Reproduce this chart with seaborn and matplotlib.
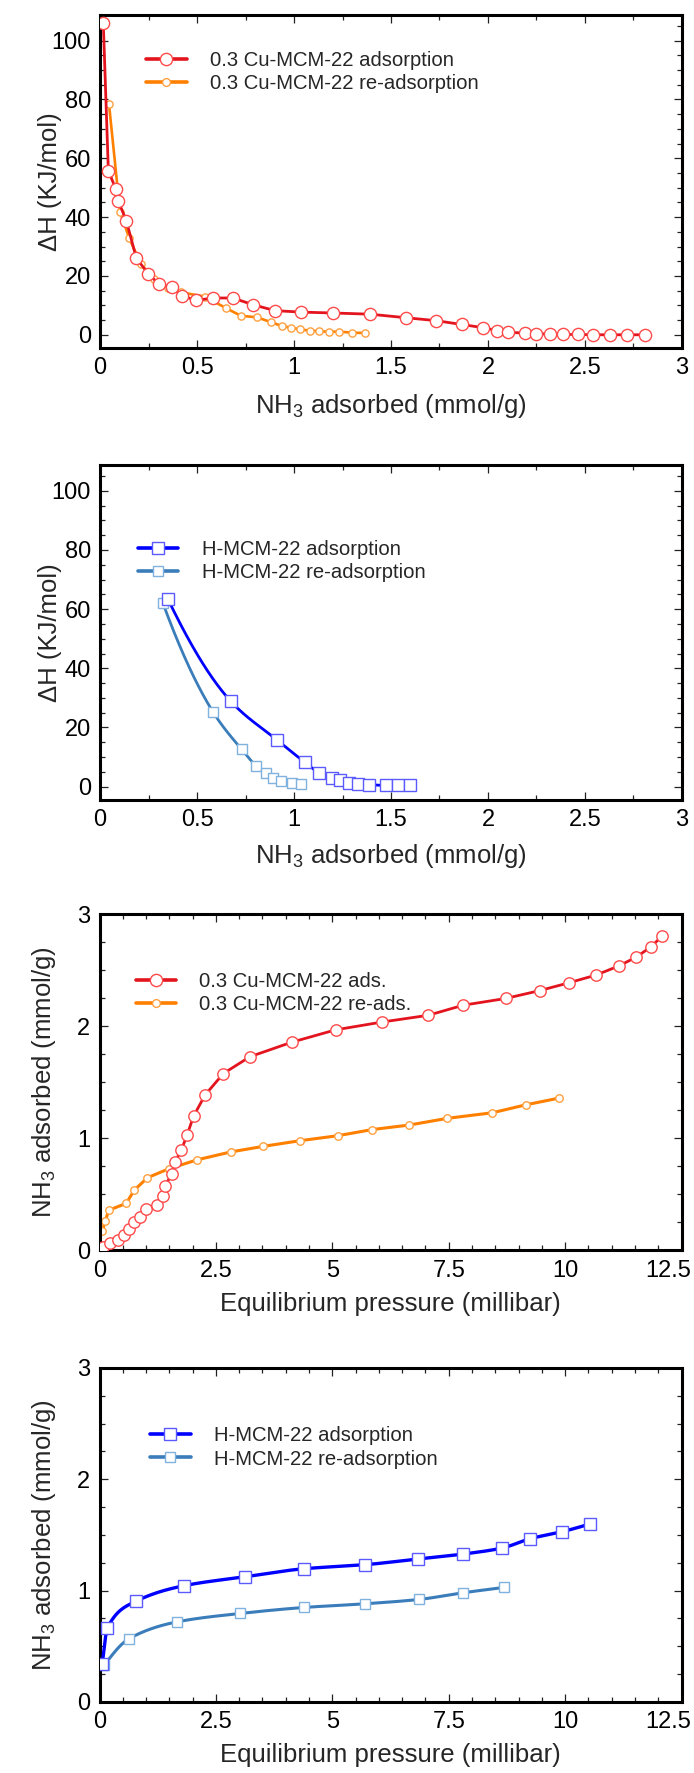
import numpy as np
import pandas as pd
import matplotlib
matplotlib.use("Agg")
import matplotlib.pyplot as plt
import seaborn as sns
from matplotlib.lines import Line2D
from matplotlib.ticker import MultipleLocator, FixedLocator, FixedFormatter
from matplotlib.transforms import ScaledTranslation

# ---------------- data ----------------
# Panel 1: heat of adsorption, 0.3 Cu-MCM-22
cu_ads_x = [0.017, 0.043, 0.081, 0.094, 0.136, 0.187, 0.249, 0.304, 0.37, 0.421, 0.495,
            0.584, 0.684, 0.79, 0.902, 1.038, 1.203, 1.392, 1.576, 1.732, 1.864, 1.976,
            2.048, 2.105, 2.19, 2.25, 2.32, 2.388, 2.465, 2.543, 2.63, 2.718, 2.81]
cu_ads_h = [105.9, 55.8, 49.6, 45.5, 38.7, 26.1, 20.7, 17.2, 16.2, 13.3, 11.7,
            12.5, 12.5, 10.2, 8.2, 7.7, 7.4, 7.0, 5.8, 4.8, 3.5, 2.4,
            1.4, 0.8, 0.6, 0.4, 0.2, 0.1, 0.1, 0.0, 0.0, 0.0, 0.0]
cu_re_x = [0.046, 0.103, 0.15, 0.21, 0.28, 0.35, 0.418, 0.541, 0.648, 0.725, 0.811,
           0.88, 0.937, 0.985, 1.031, 1.082, 1.13, 1.182, 1.23, 1.30, 1.368]
cu_re_h = [78.6, 41.9, 33.0, 24.0, 19.0, 16.0, 14.4, 13.0, 9.1, 6.5, 5.9,
           4.3, 3.0, 2.4, 1.8, 1.4, 1.2, 1.0, 1.1, 0.7, 0.6]

# Panel 2: heat of adsorption, H-MCM-22
h_ads_x = [0.35, 0.675, 0.914, 1.055, 1.13, 1.198, 1.237, 1.284, 1.332, 1.388, 1.472, 1.538, 1.60]
h_ads_h = [63.4, 28.8, 15.7, 8.3, 4.7, 3.0, 2.1, 1.3, 1.0, 0.7, 0.4, 0.4, 0.4]
h_re_x = [0.325, 0.584, 0.730, 0.804, 0.854, 0.89, 0.931, 0.988, 1.035]
h_re_h = [61.9, 25.1, 12.6, 7.1, 4.5, 3.0, 2.0, 1.3, 1.0]

# Panel 3: isotherms, 0.3 Cu-MCM-22
cu_iso_p = [0.05, 0.08, 0.225, 0.39, 0.53, 0.64, 0.75, 0.87, 0.99, 1.23, 1.36, 1.41, 1.55,
            1.62, 1.76, 1.88, 2.02, 2.27, 2.66, 3.23, 4.13, 5.07, 6.07, 7.06, 7.81, 8.72,
            9.45, 10.08, 10.67, 11.15, 11.53, 11.84, 12.09]
cu_iso_n = [0.01, 0.03, 0.07, 0.09, 0.14, 0.19, 0.25, 0.30, 0.37, 0.41, 0.49, 0.58, 0.68,
            0.79, 0.90, 1.03, 1.20, 1.39, 1.58, 1.73, 1.86, 1.97, 2.04, 2.10, 2.19, 2.25,
            2.32, 2.39, 2.46, 2.54, 2.62, 2.71, 2.81]
cu_reiso_p = [0.06, 0.12, 0.2, 0.57, 0.75, 1.03, 1.49, 2.10, 2.82, 3.52, 4.30, 5.12,
              5.86, 6.65, 7.47, 8.44, 9.15, 9.86]
cu_reiso_n = [0.17, 0.26, 0.36, 0.42, 0.54, 0.65, 0.73, 0.81, 0.88, 0.93, 0.98, 1.025,
              1.08, 1.12, 1.18, 1.23, 1.30, 1.36]

# Panel 4: isotherms, H-MCM-22
h_iso_p = [0.06, 0.17, 0.79, 1.81, 3.13, 4.39, 5.70, 6.83, 7.81, 8.65, 9.25, 9.94, 10.53]
h_iso_n = [0.345, 0.666, 0.906, 1.044, 1.125, 1.197, 1.233, 1.284, 1.329, 1.383, 1.467, 1.53, 1.599]
h_reiso_p = [0.10, 0.64, 1.67, 3.02, 4.39, 5.70, 6.86, 7.81, 8.69]
h_reiso_n = [0.33, 0.57, 0.72, 0.795, 0.849, 0.882, 0.921, 0.981, 1.029]

# tick labels
heat_xticks = [0, 0.5, 1, 1.5, 2, 2.5, 3]
heat_xlabels = ["0", "0.5", "1", "1.5", "2", "2.5", "3"]
heat_yticks = [0, 20, 40, 60, 80, 100]
heat_ylabels = ["0", "20", "40", "60", "80", "100"]
iso_xticks = [0, 2.5, 5, 7.5, 10, 12.5]
iso_xlabels = ["0", "2.5", "5", "7.5", "10", "12.5"]
iso_yticks = [0, 1, 2, 3]
iso_ylabels = ["0", "1", "2", "3"]

labels1 = ["0.3 Cu-MCM-22 adsorption", "0.3 Cu-MCM-22 re-adsorption"]
labels2 = ["H-MCM-22 adsorption", "H-MCM-22 re-adsorption"]
labels3 = ["0.3 Cu-MCM-22 ads.", "0.3 Cu-MCM-22 re-ads."]
labels4 = ["H-MCM-22 adsorption", "H-MCM-22 re-adsorption"]

# ---------------- style ----------------
sns.set_style("ticks")
plt.rcParams["font.family"] = ["Liberation Sans", "DejaVu Sans"]
plt.rcParams["mathtext.fontset"] = "custom"
plt.rcParams["mathtext.rm"] = "Liberation Sans"
plt.rcParams["mathtext.it"] = "Liberation Sans:italic"
plt.rcParams["mathtext.bf"] = "Liberation Sans:bold"

RED_L, RED_E = "#E3141E", "#FF4A4A"
ORA_L, ORA_E = "#FF8000", "#FFA040"
BLU_L, BLU_E = "#0000FF", "#5A5AFF"
STL_L, STL_E = "#3A7DBA", "#80B2E0"

TICK_FS = 17
LAB_FS = 18.5
LEG_FS = 14.6


def pchip(x, y, n=300):
    x = np.asarray(x, float)
    y = np.asarray(y, float)
    h = np.diff(x)
    d = np.diff(y) / h
    m = np.zeros_like(x)
    for k in range(1, len(x) - 1):
        if d[k - 1] * d[k] > 0:
            w1 = 2 * h[k] + h[k - 1]
            w2 = h[k] + 2 * h[k - 1]
            m[k] = (w1 + w2) / (w1 / d[k - 1] + w2 / d[k])
    def endslope(h0, h1, d0, d1):
        s = ((2 * h0 + h1) * d0 - h0 * d1) / (h0 + h1)
        if np.sign(s) != np.sign(d0):
            s = 0.0
        elif np.sign(d0) != np.sign(d1) and abs(s) > abs(3 * d0):
            s = 3 * d0
        return s
    m[0] = endslope(h[0], h[1], d[0], d[1])
    m[-1] = endslope(h[-1], h[-2], d[-1], d[-2])
    xs = np.linspace(x[0], x[-1], n)
    idx = np.clip(np.searchsorted(x, xs) - 1, 0, len(x) - 2)
    t = (xs - x[idx]) / h[idx]
    h00 = 2 * t**3 - 3 * t**2 + 1
    h10 = t**3 - 2 * t**2 + t
    h01 = -2 * t**3 + 3 * t**2
    h11 = t**3 - t**2
    ys = h00 * y[idx] + h10 * h[idx] * m[idx] + h01 * y[idx + 1] + h11 * h[idx] * m[idx + 1]
    return xs, ys


def series(ax, x, y, line_c, edge_c, marker, ms, lw=2.0, smooth=False, z=2):
    if smooth:
        xs, ys = pchip(x, y)
        sns.lineplot(x=xs, y=ys, ax=ax, color=line_c, lw=lw, sort=False,
                     estimator=None, zorder=z)
        sns.lineplot(x=x, y=y, ax=ax, linestyle="none", marker=marker, markersize=ms,
                     markerfacecolor="white", markeredgecolor=edge_c,
                     markeredgewidth=1.0, sort=False, estimator=None, zorder=z + 0.5)
    else:
        sns.lineplot(x=x, y=y, ax=ax, color=line_c, lw=lw, marker=marker, markersize=ms,
                     markerfacecolor="white", markeredgecolor=edge_c,
                     markeredgewidth=1.0, sort=False, estimator=None, zorder=z)


def handle(line_c, edge_c, marker, ms, lw=2.6):
    return Line2D([], [], color=line_c, lw=lw, marker=marker, markersize=ms,
                  markerfacecolor="white", markeredgecolor=edge_c, markeredgewidth=1.0)


def style_axes(ax, xt, xl, yt, yl, xminor, yminor, xlim, ylim):
    ax.set_xlim(*xlim)
    ax.set_ylim(*ylim)
    ax.xaxis.set_major_locator(FixedLocator(xt))
    ax.xaxis.set_major_formatter(FixedFormatter(xl))
    ax.yaxis.set_major_locator(FixedLocator(yt))
    ax.yaxis.set_major_formatter(FixedFormatter(yl))
    ax.xaxis.set_minor_locator(MultipleLocator(xminor))
    ax.yaxis.set_minor_locator(MultipleLocator(yminor))
    ax.tick_params(which="both", direction="in", top=True, right=True,
                   width=0.9, colors="#222222", labelcolor="black")
    ax.tick_params(which="major", length=6.0, pad=6.5, labelsize=TICK_FS)
    ax.tick_params(which="minor", length=3.6)
    for s in ax.spines.values():
        s.set_linewidth(2.2)
        s.set_color("black")
        s.set_visible(True)
    ax.set_facecolor("white")


def add_legend(ax, handles, labels, anchor):
    ax.legend(handles, labels, loc="center left", bbox_to_anchor=anchor, frameon=False,
              fontsize=LEG_FS, handlelength=2.0, handletextpad=1.15, labelspacing=0.2,
              borderpad=0, borderaxespad=0)


fig = plt.figure(figsize=(6.94, 17.73), dpi=100)
fig.patch.set_facecolor("white")
ax1 = fig.add_axes([0.1441, 0.80372, 0.8386, 0.18782])
ax2 = fig.add_axes([0.1441, 0.54879, 0.8386, 0.18895])
ax3 = fig.add_axes([0.1434, 0.29470, 0.8386, 0.18951])
ax4 = fig.add_axes([0.1434, 0.04005, 0.8386, 0.18838])

# Panel 1
series(ax1, cu_re_x, cu_re_h, ORA_L, ORA_E, "o", 5.2, lw=1.9, z=2)
series(ax1, cu_ads_x, cu_ads_h, RED_L, RED_E, "o", 8.8, lw=2.0, z=3)
style_axes(ax1, heat_xticks, heat_xlabels, heat_yticks, heat_ylabels, 0.25, 5, (0, 3), (-4.5, 108.7))
ax1.set_xlabel("NH$_3$ adsorbed (mmol/g)", fontsize=LAB_FS, va="top")
ax1.set_ylabel("ΔH (KJ/mol)", fontsize=LAB_FS)
add_legend(ax1, [handle(RED_L, RED_E, "o", 8.8), handle(ORA_L, ORA_E, "o", 5.6)], labels1,
           (0.079, 0.829))

# Panel 2
series(ax2, h_re_x, h_re_h, STL_L, STL_E, "s", 6.6, lw=2.0, smooth=True, z=2)
series(ax2, h_ads_x, h_ads_h, BLU_L, BLU_E, "s", 8.6, lw=2.0, smooth=True, z=3)
style_axes(ax2, heat_xticks, heat_xlabels, heat_yticks, heat_ylabels, 0.25, 5, (0, 3), (-4.5, 108.7))
ax2.set_xlabel("NH$_3$ adsorbed (mmol/g)", fontsize=LAB_FS, va="top")
ax2.set_ylabel("ΔH (KJ/mol)", fontsize=LAB_FS)
add_legend(ax2, [handle(BLU_L, BLU_E, "s", 8.6), handle(STL_L, STL_E, "s", 6.6)], labels2,
           (0.065, 0.712))

# Panel 3
series(ax3, cu_reiso_p, cu_reiso_n, ORA_L, ORA_E, "o", 5.4, lw=2.2, z=2)
series(ax3, cu_iso_p, cu_iso_n, RED_L, RED_E, "o", 8.2, lw=2.0, z=3)
style_axes(ax3, iso_xticks, iso_xlabels, iso_yticks, iso_ylabels, 0.5, 0.25, (0, 12.5), (0, 3))
ax3.set_xlabel("Equilibrium pressure (millibar)", fontsize=LAB_FS, va="top")
ax3.set_ylabel("NH$_3$ adsorbed (mmol/g)", fontsize=LAB_FS)
add_legend(ax3, [handle(RED_L, RED_E, "o", 8.8), handle(ORA_L, ORA_E, "o", 5.6)], labels3,
           (0.062, 0.765))

# Panel 4
series(ax4, h_reiso_p, h_reiso_n, STL_L, STL_E, "s", 7.0, lw=2.2, smooth=True, z=2)
series(ax4, h_iso_p, h_iso_n, BLU_L, BLU_E, "s", 8.6, lw=2.4, smooth=True, z=3)
style_axes(ax4, iso_xticks, iso_xlabels, iso_yticks, iso_ylabels, 0.5, 0.25, (0, 12.5), (0, 3))
ax4.set_xlabel("Equilibrium pressure (millibar)", fontsize=LAB_FS, va="top")
ax4.set_ylabel("NH$_3$ adsorbed (mmol/g)", fontsize=LAB_FS)
add_legend(ax4, [handle(BLU_L, BLU_E, "s", 8.6), handle(STL_L, STL_E, "s", 6.6)], labels4,
           (0.087, 0.762))

# label positions
ax1.yaxis.set_label_coords(-0.065, 0.5)
ax2.yaxis.set_label_coords(-0.065, 0.5)
ax3.yaxis.set_label_coords(-0.071, 0.5)
ax4.yaxis.set_label_coords(-0.071, 0.5)
ax1.xaxis.set_label_coords(0.5, -0.132)
ax2.xaxis.set_label_coords(0.5, -0.125)
ax3.xaxis.set_label_coords(0.5, -0.123)
ax4.xaxis.set_label_coords(0.5, -0.123)

# keep the right-most "12.5" labels inside the canvas
fig.canvas.draw()
for ax in (ax3, ax4):
    lab = ax.xaxis.get_major_ticks()[-1].label1
    lab.set_transform(lab.get_transform() + ScaledTranslation(-0.13, 0, fig.dpi_scale_trans))

fig.savefig("out.png", dpi=100, facecolor="white")
